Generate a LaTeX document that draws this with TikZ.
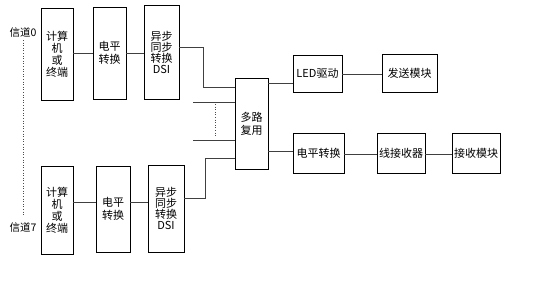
\documentclass[tikz,border=0pt]{standalone}
\usepackage{fontspec}
\setmainfont{Noto Sans CJK SC}
\begin{document}
\begin{tikzpicture}[x=1pt,y=-1pt,
  box/.style={draw=black, line width=0.9pt, anchor=north west, inner sep=0pt, outer sep=0pt,
    font=\fontsize{11}{13}\selectfont, align=center},
  wire/.style={draw=black!75, line width=0.8pt},
  lbl/.style={font=\fontsize{10.5}{12}\selectfont, inner sep=0pt}]
\useasboundingbox (0,0) rectangle (535,293);
\fill[white] (0,0) rectangle (535,293);
% channel 0 row
\node[box, minimum width=32pt, minimum height=92pt] (c0) at (41,8) {计算\\[-1pt]机\\[-1pt]或\\[-1pt]终端};
\node[box, minimum width=33pt, minimum height=92pt] (l0) at (93,7) {电平\\转换};
\node[box, minimum width=35pt, minimum height=94pt] (d0) at (144,5) {异步\\[-2pt]同步\\[-2pt]转换\\[-2pt]DSI};
% channel 7 row
\node[box, minimum width=32pt, minimum height=88pt] (c7) at (41,166) {计算\\[-1pt]机\\[-1pt]或\\[-1pt]终端};
\node[box, minimum width=34pt, minimum height=86pt] (l7) at (96,166) {电平\\转换};
\node[box, minimum width=36pt, minimum height=87pt] (d7) at (148,165) {异步\\[-2pt]同步\\[-2pt]转换\\[-2pt]DSI};
% mux
\node[box, minimum width=33pt, minimum height=91pt] (mux) at (235,78) {多路\\复用};
% right side
\node[box, minimum width=49pt, minimum height=37pt] (led) at (293,55) {LED驱动};
\node[box, minimum width=55pt, minimum height=38pt] (tx) at (382,54) {发送模块};
\node[box, minimum width=51pt, minimum height=40pt] (lv) at (293,133) {电平转换};
\node[box, minimum width=48pt, minimum height=40pt] (rx) at (377,133) {线接收器};
\node[box, minimum width=48pt, minimum height=40pt] (rm) at (452,133) {接收模块};
% labels
\node[lbl] (ch0) at (23,32) {信道0};
\node[lbl] (ch7) at (23,227) {信道7};
\draw[black!70, line width=0.6pt, dotted] (ch0.south |- 0,40) -- (ch7.north |- 0,215);
% row connections
\draw[wire] (c0.east |- 0,53) -- (l0.west |- 0,53);
\draw[wire] (l0.east |- 0,53) -- (d0.west |- 0,53);
\draw[wire] (c7.east |- 0,202) -- (l7.west |- 0,202);
\draw[wire] (l7.east |- 0,202) -- (d7.west |- 0,202);
% to mux
\draw[wire] (d0.east |- 0,47) -- (203,47) -- (203,87) -- (mux.west |- 0,87);
\draw[wire] (d7.east |- 0,198) -- (205,198) -- (205,158) -- (mux.west |- 0,158);
\coordinate (in1) at (193,102);
\coordinate (in2) at (193,140);
\draw[wire] (in1) -- (mux.west |- in1);
\draw[wire] (in2) -- (mux.west |- in2);
\draw[black!70, line width=0.6pt, dotted] (215,104) -- (215,136);
% right connections
\draw[wire] (mux.east |- 0,83) -- (led.west |- 0,83);
\draw[wire] (led.east |- 0,74) -- (tx.west |- 0,74);
\draw[wire] (mux.east |- 0,151) -- (lv.west |- 0,151);
\draw[wire] (lv.east |- 0,154) -- (rx.west |- 0,154);
\draw[wire] (rx.east |- 0,154) -- (rm.west |- 0,154);
\end{tikzpicture}
\end{document}
